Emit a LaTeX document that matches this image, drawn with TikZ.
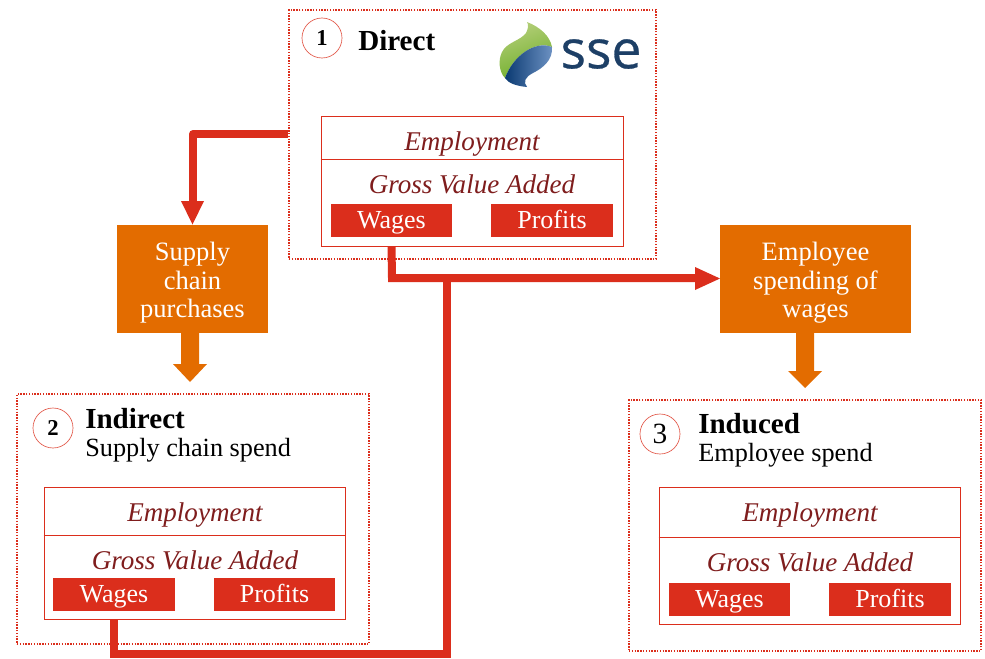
\documentclass[tikz,border=0pt]{standalone}
\usepackage{fontspec}
\setmainfont{Liberation Serif}
\newfontfamily\logofont[FakeBold=0.5]{Open Sans}
\usetikzlibrary{arrows.meta}
\definecolor{pwcred}{HTML}{DB2E1C}
\definecolor{pwcorange}{HTML}{E36C00}
\definecolor{darkred}{HTML}{7F1D1D}
\definecolor{logonavy}{HTML}{1D3F66}
\definecolor{logogreen}{HTML}{6FAE2A}
\definecolor{logolight}{HTML}{B5CF7A}
\definecolor{logoblue}{HTML}{0B3A72}
\definecolor{logosky}{HTML}{6E93C4}
\tikzset{
  x=0.75pt,y=-0.75pt,
  dotbox/.style={draw=pwcred,densely dotted,line width=1.1pt,fill=none},
  innerbox/.style={draw=pwcred,line width=0.6pt,fill=white},
  redtag/.style={fill=pwcred,text=white,font=\fontsize{19.5}{22}\selectfont,inner sep=0pt,minimum width=91pt,minimum height=24.5pt,text height=14.5pt,text depth=2.5pt},
  ital/.style={anchor=base,text=darkred,font=\fontsize{20.3}{22}\selectfont\itshape,inner sep=0pt},
  numc/.style={circle,draw=pwcred!80,line width=0.5pt,fill=white,minimum size=30pt,inner sep=0pt},
  numb/.style={numc,font=\fontsize{17}{20}\selectfont\bfseries},
  numr/.style={numc,font=\fontsize{22}{24}\selectfont},
  headb/.style={anchor=base west,inner sep=0pt,font=\fontsize{21.8}{24}\selectfont\bfseries},
  headn/.style={anchor=base west,inner sep=0pt,font=\fontsize{19.7}{22}\selectfont},
  orangebox/.style={fill=pwcorange,text=white,align=center,inner sep=0pt,font=\fontsize{19.9}{21.5}\selectfont},
  redline/.style={draw=pwcred,line width=6pt},
  redhead/.style={fill=pwcred,draw=none},
  orangearrow/.style={fill=pwcorange,draw=none},
}
\begin{document}
\begin{tikzpicture}
\useasboundingbox (0,0) rectangle (985,658);
% connector bends
\coordinate (c1) at (193,134);
\coordinate (c2) at (392,278);
\coordinate (c3) at (447,278);
\coordinate (c4) at (447,654);
\coordinate (c5) at (114,654);
% dotted frames
\node[dotbox,minimum width=275.25pt,minimum height=186.75pt,inner sep=0pt] (d1) at (472.5,134.5) {};
\node[dotbox,minimum width=264pt,minimum height=187.5pt,inner sep=0pt] (d2) at (193,519) {};
\node[dotbox,minimum width=264pt,minimum height=188.25pt,inner sep=0pt] (d3) at (805,525.5) {};
% orange boxes
\node[orangebox,minimum width=113.25pt,minimum height=81pt] (sc) at (192.5,279) {\rule{0pt}{19.5pt}Supply\\chain\\purchases};
\node[orangebox,minimum width=143.25pt,minimum height=81pt] (es) at (815.5,279) {\rule{0pt}{19.5pt}Employee\\spending of\\wages};
% inner 1
\node[innerbox,minimum width=226.5pt,minimum height=97.5pt,inner sep=0pt] (i1) at (472,181) {};
\draw[draw=pwcred,line width=0.6pt] (i1.west |- 0,159) -- (i1.east |- 0,159);
\node[ital] (e1) at (472,150) {Employment};
\node[ital] (g1) at (472,193) {Gross Value Added};
\node[redtag] (w1) at (391.5,220.5) {Wages};
\node[redtag] (p1) at (552,220.5) {Profits};
% inner 2
\node[innerbox,minimum width=225.75pt,minimum height=99pt,inner sep=0pt] (i2) at (194.5,553) {};
\draw[draw=pwcred,line width=0.6pt] (i2.west |- 0,535) -- (i2.east |- 0,535);
\node[ital] (e2) at (195,521) {Employment};
\node[ital] (g2) at (195,569) {Gross Value Added};
\node[redtag] (w2) at (114,594.5) {Wages};
\node[redtag] (p2) at (274.5,594.5) {Profits};
% inner 3
\node[innerbox,minimum width=225.75pt,minimum height=102.75pt,inner sep=0pt] (i3) at (809.5,555.5) {};
\draw[draw=pwcred,line width=0.6pt] (i3.west |- 0,537) -- (i3.east |- 0,537);
\node[ital] (e3) at (810,521) {Employment};
\node[ital] (g3) at (810,571) {Gross Value Added};
\node[redtag] (w3) at (729.5,599.5) {Wages};
\node[redtag] (p3) at (890,599.5) {Profits};
% red connectors
\draw[redline,line join=round] (d1.west |- 0,134) -- (c1) -- ++(0,70);
\fill[redhead] (181,201) -- (204,201) -- (192.5,224.5) -- cycle;
\draw[redline] (i1.south -| w1) -- (c2) -- (697,278);
\fill[redhead] (695,267) -- (720,278.5) -- (695,290) -- cycle;
\draw[redline] (i2.south -| w2) -- (c5) -- (c4) -- (c3);
% orange arrows
\fill[orangearrow] (181,333) -- (199,333) -- (199,364) -- (207,364) -- (190,382) -- (173,364) -- (181,364) -- cycle;
\fill[orangearrow] (796,333) -- (814,333) -- (814,371) -- (822,371) -- (805,388) -- (788,371) -- (796,371) -- cycle;
% headings
\node[numb] (n1) at (322,38) {1};
\node[headb] (t1) at (358,50) {Direct};
\node[numb] (n2) at (53,428) {2};
\node[headb] (t2) at (85,428) {Indirect};
\node[headn] (s2) at (85,456) {Supply chain spend};
\node[numr] (n3) at (660,434) {3};
\node[headb] (t3) at (698,433) {Induced};
\node[headn] (s3) at (698,461) {Employee spend};
% logo
\shade[left color=logolight,right color=logogreen,shading angle=20]
  (527,22) .. controls (540,27) and (550,36) .. (552,47)
  .. controls (535,40) and (513,56) .. (505,78)
  .. controls (499,72) and (498,60) .. (502,52)
  .. controls (507,42) and (520,41) .. (526,33)
  .. controls (528,29) and (529,25) .. (527,22) -- cycle;
\shade[left color=logoblue,right color=logosky]
  (552,47) .. controls (553,60) and (543,68) .. (533,73)
  .. controls (525,77) and (523,82) .. (527,87)
  .. controls (516,86) and (508,83) .. (505,78)
  .. controls (513,56) and (535,40) .. (552,47) -- cycle;
\node[inner sep=0pt,text=logonavy,font=\fontsize{40}{42}\logofont] (lg) at (601,54) {sse};
\end{tikzpicture}
\end{document}
